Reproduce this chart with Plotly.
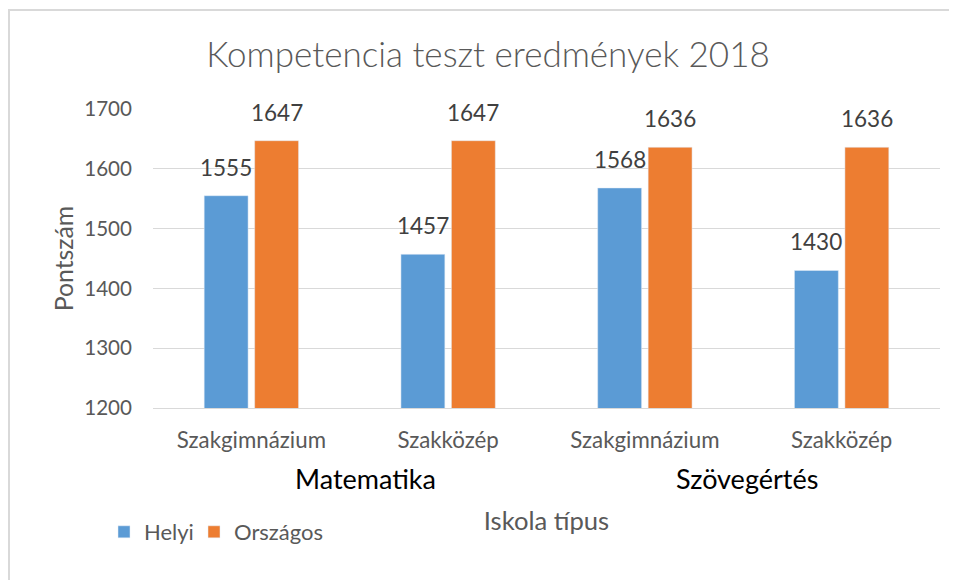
import plotly.graph_objects as go

categories = ["Szakgimnázium", "Szakközép", "Szakgimnázium", "Szakközép"]
groups = ["Matematika", "Szövegértés"]
helyi = [1555, 1457, 1568, 1430]
orszagos = [1647, 1647, 1636, 1636]
y_ticks = [1200, 1300, 1400, 1500, 1600, 1700]

FONT = "Lato, DejaVu Sans Condensed, sans-serif"
GRAY = "#595959"
LABEL_GRAY = "#404040"

W, H = 957, 580
OFF = 8  # page body margin
L, R, T, B = 145, 25, 101, 180
pw, ph = W - L - R, H - T - B
BARGAP, GROUPGAP = 0.487, 0.13

def px_x(sx):
    return (sx - OFF - L) / pw

def px_y(sy):
    return (H - B - (sy - OFF)) / ph

xs = list(range(len(categories)))
series = [("Helyi", helyi, "#5B9BD5", "legend"), ("Országos", orszagos, "#ED7D31", "legend2")]

fig = go.Figure()
for name, vals, col, leg in series:
    fig.add_trace(go.Bar(x=xs, y=vals, name=name, marker_color=col, legend=leg,
                         hovertemplate="%{y}<extra>" + name + "</extra>"))

# data labels, centred over each bar of the group
slot = (1 - BARGAP) / len(series)
for k, (name, vals, col, leg) in enumerate(series):
    off = (k - (len(series) - 1) / 2) * slot
    for i, v in zip(xs, vals):
        fig.add_annotation(text=str(v), x=i + off, xref="x", y=v, yref="y",
                           xanchor="center", yanchor="bottom", yshift=13,
                           showarrow=False,
                           font=dict(family=FONT, size=22.5, color=LABEL_GRAY))

legend_style = dict(orientation="h", xanchor="left", y=px_y(532), yanchor="middle",
                    font=dict(family=FONT, size=22, color=GRAY), itemwidth=30,
                    bgcolor="rgba(0,0,0,0)")

fig.update_layout(
    width=W, height=H,
    margin=dict(l=L, r=R, t=T, b=B, autoexpand=False),
    paper_bgcolor="white", plot_bgcolor="white",
    barmode="group", bargap=BARGAP, bargroupgap=GROUPGAP,
    font=dict(family=FONT, color=GRAY),
    title=dict(text="Kompetencia teszt eredmények 2018", x=480 / W, xref="container",
               xanchor="center", y=1 - 47 / H, yref="container", yanchor="middle",
               font=dict(family=FONT, size=35, color=GRAY, weight=300)),
    showlegend=True,
    legend=dict(x=px_x(104), **legend_style),
    legend2=dict(x=px_x(194), **legend_style),
    xaxis=dict(tickmode="array", tickvals=xs, ticktext=categories,
               range=[-0.5, len(xs) - 0.5], showgrid=False, zeroline=False,
               showline=True, linecolor="#d9d9d9", linewidth=1,
               ticks="", ticklabelstandoff=12, automargin=False,
               tickfont=dict(family=FONT, size=22.3, color=GRAY),
               title=dict(text="Iskola típus", standoff=60,
                          font=dict(family=FONT, size=25.6, color=GRAY))),
    yaxis=dict(range=[1200, 1700], tickmode="array", tickvals=y_ticks,
               showgrid=True, gridcolor="#d9d9d9", gridwidth=1, zeroline=False,
               showline=False, ticks="", ticklabelstandoff=20, automargin=False,
               tickfont=dict(family=FONT, size=20.6, color=GRAY),
               title=dict(text="Pontszám", standoff=3,
                          font=dict(family=FONT, size=24.8, color=GRAY))),
    shapes=[dict(type="rect", xref="paper", yref="paper",
                 x0=px_x(9), x1=px_x(990), y0=px_y(620), y1=px_y(10),
                 line=dict(color="#d9d9d9", width=2), fillcolor="rgba(0,0,0,0)",
                 layer="below")],
)

group_centers = [365, 747]
for g, cx in zip(groups, group_centers):
    fig.add_annotation(text=g, x=px_x(cx), xref="paper", y=px_y(478), yref="paper",
                       xanchor="center", yanchor="middle", showarrow=False,
                       font=dict(family=FONT, size=27, color="#000000"))

fig.write_html("out.html")
